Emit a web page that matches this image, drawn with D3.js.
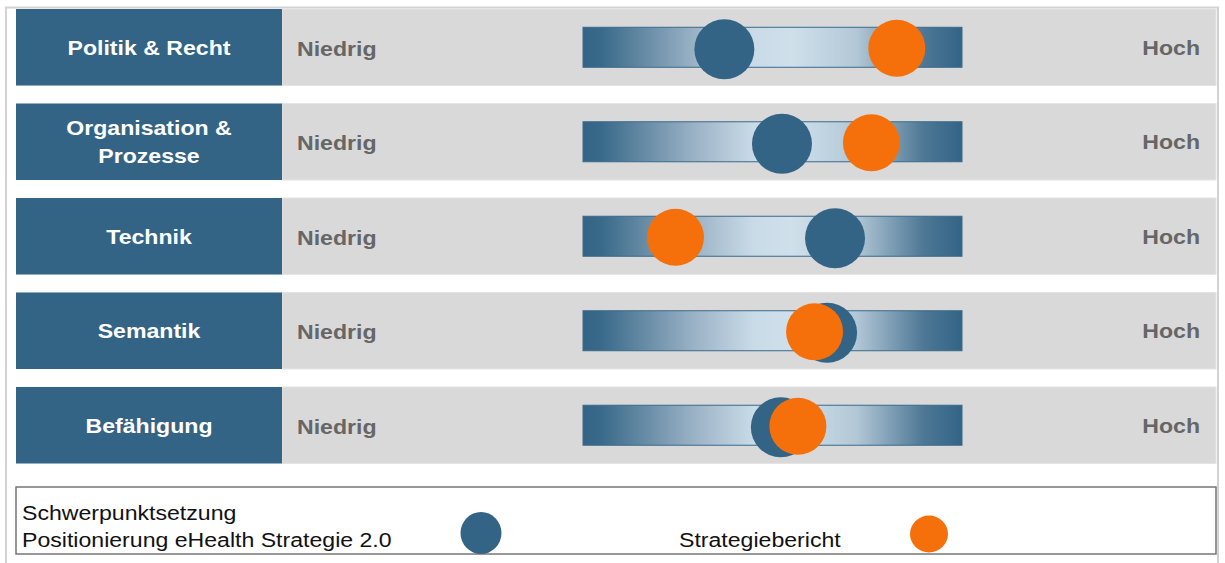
<!DOCTYPE html>
<html>
<head>
<meta charset="utf-8">
<script src="https://cdn.jsdelivr.net/npm/d3@7"></script>
<style>
  body { margin: 0; background: #fff; }
  text { font-family: Arial, "Liberation Sans", sans-serif; }
</style>
</head>
<body>
<div id="chart"></div>
<script>
// Data
var categories = ["Politik & Recht", "Organisation & Prozesse", "Technik", "Semantik", "Befähigung"];
var categoryLines = [["Politik & Recht"], ["Organisation &", "Prozesse"], ["Technik"], ["Semantik"], ["Befähigung"]];
var strategie20 = [37.3, 52.5, 66.5, 64.4, 52.2];   // Positionierung eHealth Strategie 2.0
var strategiebericht = [82.8, 76.1, 24.4, 61.1, 56.7];
var lowLabel = "Niedrig";
var highLabel = "Hoch";
var legendLabels = ["Schwerpunktsetzung", "Positionierung eHealth Strategie 2.0", "Strategiebericht"];

var svgWidth = 1225;
var svgHeight = 563;

var blue = "#336485";
var orange = "#f5700a";
var stretch = "scale(1.1,1)";

var svg = d3.select("#chart")
  .append("svg")
  .attr("width", svgWidth)
  .attr("height", svgHeight);

// gradient for the bars
var grad = svg.append("defs").append("linearGradient")
  .attr("id", "barGrad")
  .attr("x1", "0%").attr("x2", "100%").attr("y1", "0%").attr("y2", "0%");
[[0, "#336485"], [0.05, "#3a6a8a"], [0.3, "#9db4c7"], [0.45, "#c9dbe7"], [0.55, "#cfe0eb"],
 [0.72, "#b3c8d7"], [0.9, "#4d7795"], [1, "#336485"]].forEach(function(s) {
  grad.append("stop").attr("offset", s[0]).attr("stop-color", s[1]);
});

// outer frame
svg.append("path")
  .attr("d", "M6,563 V7.5 H1218 V563")
  .attr("fill", "none")
  .attr("stroke", "#d2d2d2")
  .attr("stroke-width", 2);

var y = d3.scaleBand()
  .domain(categories)
  .range([9, 463.5])
  .paddingInner(0.19)
  .paddingOuter(0);

var x = d3.scaleLinear()
  .domain([0, 100])
  .range([583, 962]);

var rows = svg.selectAll("g.row")
  .data(categories)
  .enter()
  .append("g")
  .attr("class", "row")
  .attr("transform", d => `translate(0, ${y(d)})`);

var bh = y.bandwidth();

// gray band
rows.append("rect")
  .attr("x", 282).attr("y", 0)
  .attr("width", 1216 - 282).attr("height", bh)
  .attr("fill", "#d9d9d9")
  .attr("stroke", "#e4e4e4")
  .attr("stroke-width", 1);

// blue label box
rows.append("rect")
  .attr("x", 16).attr("y", 0)
  .attr("width", 282 - 16).attr("height", bh)
  .attr("fill", blue);

// category labels
rows.each(function(d, i) {
  var lines = categoryLines[i];
  var g = d3.select(this);
  lines.forEach(function(line, j) {
    var cy = bh / 2 + (j - (lines.length - 1) / 2) * 28;
    g.append("text")
      .attr("transform", `translate(149, ${cy}) ${stretch}`)
      .attr("dy", "0.35em")
      .attr("text-anchor", "middle")
      .style("font-size", "21px")
      .style("font-weight", "bold")
      .style("fill", "#fff")
      .text(line);
  });
});

// Niedrig / Hoch
rows.append("text")
  .attr("transform", `translate(297, ${bh / 2 + 1}) ${stretch}`)
  .attr("dy", "0.35em")
  .style("font-size", "21px")
  .style("font-weight", "bold")
  .style("fill", "#666")
  .text(lowLabel);

rows.append("text")
  .attr("transform", `translate(1200, ${bh / 2}) ${stretch}`)
  .attr("dy", "0.35em")
  .attr("text-anchor", "end")
  .style("font-size", "21px")
  .style("font-weight", "bold")
  .style("fill", "#666")
  .text(highLabel);

// gradient bar
rows.append("rect")
  .attr("x", x(0)).attr("y", bh / 2 - 20)
  .attr("width", x(100) - x(0)).attr("height", 40)
  .attr("fill", "url(#barGrad)")
  .attr("stroke", "#3b6a8b")
  .attr("stroke-width", 1);

// markers
rows.append("circle")
  .attr("cx", (d, i) => x(strategie20[i]))
  .attr("cy", bh / 2 + 2)
  .attr("r", 30)
  .attr("fill", blue);

rows.append("circle")
  .attr("cx", (d, i) => x(strategiebericht[i]))
  .attr("cy", bh / 2 + 1)
  .attr("r", 28.5)
  .attr("fill", orange);

// legend
var legend = svg.append("g");
legend.append("rect")
  .attr("x", 16).attr("y", 487)
  .attr("width", 1200).attr("height", 67)
  .attr("fill", "#fff")
  .attr("stroke", "#767676")
  .attr("stroke-width", 1.5);

legend.append("text")
  .attr("transform", `translate(22, 520) ${stretch}`)
  .style("font-size", "21px")
  .style("fill", "#111")
  .text(legendLabels[0]);

legend.append("text")
  .attr("transform", `translate(22, 547) ${stretch}`)
  .style("font-size", "21px")
  .style("fill", "#111")
  .text(legendLabels[1]);

legend.append("ellipse")
  .attr("cx", 481).attr("cy", 533)
  .attr("rx", 20.5).attr("ry", 21)
  .attr("fill", blue);

legend.append("text")
  .attr("transform", `translate(679, 547) ${stretch}`)
  .style("font-size", "21px")
  .style("fill", "#111")
  .text(legendLabels[2]);

legend.append("ellipse")
  .attr("cx", 929).attr("cy", 534)
  .attr("rx", 19).attr("ry", 18.5)
  .attr("fill", orange);
</script>
</body>
</html>
